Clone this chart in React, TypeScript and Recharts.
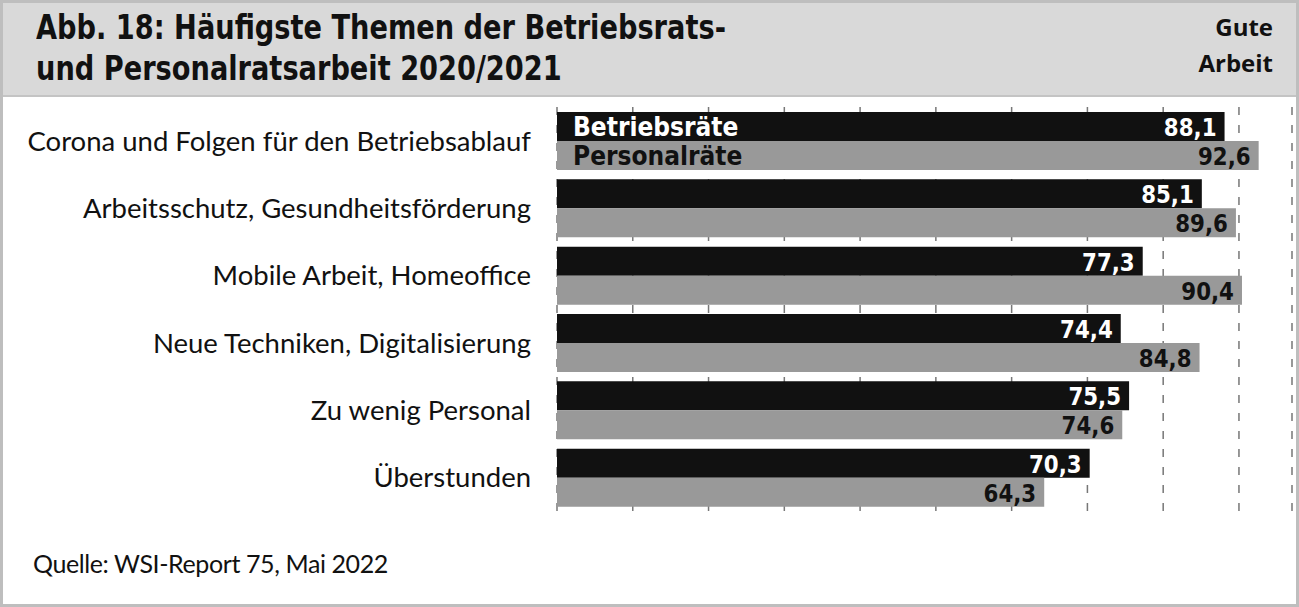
import { Bar, BarChart, CartesianGrid, LabelList, XAxis, YAxis } from "recharts";

const themen = [
  "Corona und Folgen für den Betriebsablauf",
  "Arbeitsschutz, Gesundheitsförderung",
  "Mobile Arbeit, Homeoffice",
  "Neue Techniken, Digitalisierung",
  "Zu wenig Personal",
  "Überstunden",
];
const betriebsraete = [88.1, 85.1, 77.3, 74.4, 75.5, 70.3];
const personalraete = [92.6, 89.6, 90.4, 84.8, 74.6, 64.3];
const xTicks = [0, 10, 20, 30, 40, 50, 60, 70, 80, 90];

const data = themen.map((thema, i) => ({
  thema,
  br: betriebsraete[i],
  pr: personalraete[i],
}));

const narrow = "'DejaVu Sans Condensed', 'DejaVu Sans', sans-serif";
const body = "Lato, 'Open Sans', sans-serif";

const fmt = (v: number) => v.toFixed(1).replace(".", ",");

function makeLabel(name: string, color: string) {
  return (props: any) => {
    const { x, y, width, height, value, index } = props;
    const cy = Number(y) + Number(height) / 2;
    const tx = Number(x) + Number(width) - 8;
    return (
      <g>
        {index === 0 && (
          <text x={Number(x) + 16} y={cy + 9.5} fill={color} fontFamily={narrow} fontWeight={700} fontSize={26}>
            {name}
          </text>
        )}
        <text
          transform={`translate(${tx},${cy + 9.5}) scale(0.95,1)`}
          textAnchor="end"
          fill={color}
          fontFamily={narrow}
          fontWeight={700}
          fontSize={25}
        >
          {fmt(Number(value))}
        </text>
      </g>
    );
  };
}

function CategoryTick(props: any) {
  const { x, y, payload } = props;
  return (
    <text x={x + 5} y={y + 10} textAnchor="end" fill="#111" fontFamily={body} fontSize={27.5}>
      {payload.value}
    </text>
  );
}

export default function App() {
  return (
    <>
      <style>{"body{margin:0}"}</style>
      <div
        style={{
          position: "relative",
          width: 1299,
          height: 607,
          boxSizing: "border-box",
          border: "3px solid #bebebe",
          background: "#fff",
          overflow: "hidden",
        }}
      >
        <div
          style={{
            position: "absolute",
            left: 0,
            top: 0,
            right: 0,
            height: 92,
            background: "#d9d9d9",
            borderBottom: "2px solid #c4c4c4",
          }}
        >
          <div
            style={{
              position: "absolute",
              left: 33,
              top: 4,
              fontFamily: narrow,
              fontWeight: 700,
              fontSize: 34,
              lineHeight: "41px",
              color: "#111",
              whiteSpace: "nowrap",
              transform: "scaleX(0.89)",
              transformOrigin: "left top",
            }}
          >
            Abb. 18: Häufigste Themen der Betriebsrats-
            <br />
            und Personalratsarbeit 2020/2021
          </div>
          <div
            style={{
              position: "absolute",
              right: 23,
              top: 6,
              textAlign: "right",
              fontFamily: "'Open Sans', sans-serif",
              fontWeight: 700,
              fontSize: 24,
              lineHeight: "36px",
              color: "#111",
            }}
          >
            Gute
            <br />
            Arbeit
          </div>
        </div>

        <div style={{ position: "absolute", left: -3, top: -3 }}>
          <BarChart
            width={1299}
            height={607}
            data={data}
            layout="vertical"
            margin={{ top: 107, right: 7, bottom: 96, left: 0 }}
            barGap={0}
            barSize={29}
          >
            <CartesianGrid horizontal={false} stroke="#777" strokeWidth={1.5} strokeDasharray="8 10" />
            <XAxis type="number" domain={[0, 97]} ticks={xTicks} hide />
            <YAxis
              type="category"
              dataKey="thema"
              width={557}
              axisLine={false}
              tickLine={false}
              tick={<CategoryTick />}
              tickMargin={25}
            />
            <Bar dataKey="br" fill="#111111" isAnimationActive={false}>
              <LabelList dataKey="br" content={makeLabel("Betriebsräte", "#fff")} />
            </Bar>
            <Bar dataKey="pr" fill="#999999" isAnimationActive={false}>
              <LabelList dataKey="pr" content={makeLabel("Personalräte", "#111")} />
            </Bar>
          </BarChart>
        </div>

        <div
          style={{
            position: "absolute",
            left: 30,
            top: 545,
            fontFamily: body,
            fontSize: 25,
            letterSpacing: -0.4,
            color: "#111",
          }}
        >
          Quelle: WSI-Report 75, Mai 2022
        </div>
      </div>
    </>
  );
}
